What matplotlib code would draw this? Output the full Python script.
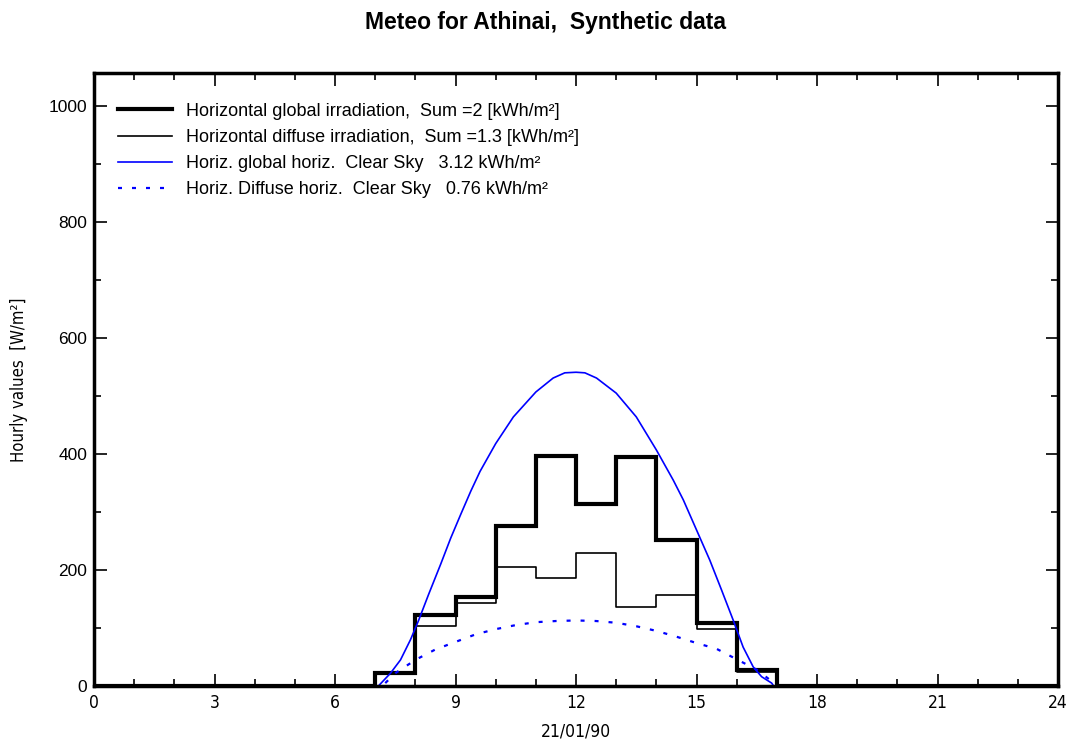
import matplotlib
matplotlib.use("Agg")
import matplotlib.pyplot as plt
from matplotlib import font_manager
from matplotlib.ticker import MultipleLocator

# hourly values [W/m2], hour 0..23 (value holds from h to h+1)
hours = list(range(25))
glob_h = [0, 0, 0, 0, 0, 0, 0, 22, 122, 153, 276, 397, 313, 395, 251, 108, 27,
          0, 0, 0, 0, 0, 0, 0]
diff_h = [0, 0, 0, 0, 0, 0, 0, 22, 103, 143, 205, 186, 229, 136, 157, 98, 24,
          0, 0, 0, 0, 0, 0, 0]

# clear sky model curves
cs_t = [7.08, 7.38, 7.63, 7.88, 8.08, 8.33, 8.63, 8.88, 9.13, 9.38, 9.61, 10.0,
        10.44, 11.0, 11.43, 11.72, 12.0, 12.22, 12.51, 13.0, 13.5, 14.0, 14.42,
        14.67, 15.0, 15.33, 15.62, 15.91, 16.16, 16.41, 16.62, 16.87, 16.92]
cs_glob = [0, 22, 45, 80, 113, 158, 210, 255, 296, 336, 370, 418,
           464, 507, 531, 540, 541, 540, 531, 505, 464, 407, 355,
           321, 269, 217, 166, 114, 67, 33, 16, 5, 0]
csd_t = [7.25, 7.5, 8.0, 8.5, 9.0, 9.5, 10.0, 10.5, 11.0, 11.5, 12.0, 12.5,
         13.0, 13.5, 14.0, 14.5, 15.0, 15.5, 16.0, 16.5, 16.8]
cs_diff = [5, 22, 45, 63, 76, 89, 98, 105, 110, 112, 113, 112,
           109, 103, 95, 85, 74, 64, 46, 28, 12]

labels = ["Horizontal global irradiation,  Sum =2 [kWh/m\u00b2]",
          "Horizontal diffuse irradiation,  Sum =1.3 [kWh/m\u00b2]",
          "Horiz. global horiz.  Clear Sky   3.12 kWh/m\u00b2",
          "Horiz. Diffuse horiz.  Clear Sky   0.76 kWh/m\u00b2"]

plt.rcParams['font.family'] = ['Liberation Sans', 'DejaVu Sans']

# a narrow face for the axis titles / x ticks, if one is there
have = [(f.name, f.stretch) for f in font_manager.fontManager.ttflist]
if any(n == 'Liberation Sans Narrow' for n, s in have):
    narrow = dict(family=['Liberation Sans Narrow', 'DejaVu Sans'])
elif ('DejaVu Sans', 'condensed') in have:
    narrow = dict(family=['DejaVu Sans'], stretch='condensed')
else:
    narrow = dict(family=['Liberation Sans', 'DejaVu Sans'])

fig = plt.figure(figsize=(10.71, 7.42), dpi=100)
ax = fig.add_axes([0.0878, 0.0755, 0.9001, 0.8261])

ax.plot(hours, glob_h + [0], drawstyle='steps-post', color='black', lw=3,
        label=labels[0], solid_joinstyle='miter')
ax.plot(hours, diff_h + [0], drawstyle='steps-post', color='black', lw=1.2,
        label=labels[1])
ax.plot(cs_t, cs_glob, color='#0000ff', lw=1.2, label=labels[2])
ax.plot(csd_t, cs_diff, color='#0000ff', lw=1.6, ls=(0, (1.8, 4.5)), label=labels[3])

ax.set_xlim(0, 24)
ax.set_ylim(0, 1057)
ax.xaxis.set_major_locator(MultipleLocator(3))
ax.xaxis.set_minor_locator(MultipleLocator(1))
ax.yaxis.set_major_locator(MultipleLocator(200))
ax.yaxis.set_minor_locator(MultipleLocator(100))
ax.tick_params(which='both', direction='in', top=True, right=True, width=1.2,
               colors='black')
ax.tick_params(which='major', length=9)
ax.tick_params(which='minor', length=5)
ax.tick_params(axis='y', labelsize=12.5, pad=5)
ax.tick_params(axis='x', labelsize=12.5, pad=6)
for lab in ax.get_xticklabels():
    lab.update(narrow)
for s in ax.spines.values():
    s.set_linewidth(2.5)

ax.set_xlabel("21/01/90", fontsize=12.5, labelpad=7, **narrow)
ax.set_ylabel("Hourly values  [W/m\u00b2]", fontsize=12, **narrow)
ax.yaxis.set_label_coords(-0.0686, 0.5)

fig.text(0.509, 0.970, "Meteo for Athinai,  Synthetic data", ha='center',
         va='center', fontsize=16.5, fontweight='bold')

ax.legend(loc='upper left', bbox_to_anchor=(0.012, 0.972), frameon=False,
          fontsize=13, handlelength=2.95, handletextpad=0.8, labelspacing=0.5,
          borderaxespad=0.3)

fig.savefig("out.png", dpi=100)
plt.close(fig)
